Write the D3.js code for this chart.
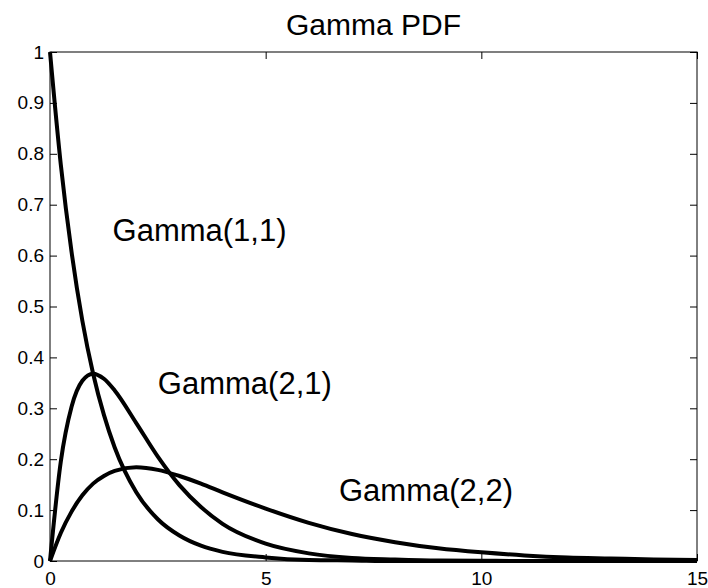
<!DOCTYPE html>
<html>
<head>
<meta charset="utf-8">
<script src="https://cdn.jsdelivr.net/npm/d3@7/dist/d3.min.js"></script>
<style>
  body { margin: 0; background: #fff; }
  svg { display: block; font-family: "Liberation Sans", Arial, Helvetica, sans-serif; }
</style>
</head>
<body>
<svg id="chart" width="708" height="588"></svg>
<script>
// values
const xs = [0, 0.25, 0.5, 0.75, 1, 1.25, 1.5, 2, 2.5, 3, 3.5, 4, 5, 6, 7, 8, 9, 10, 11, 12, 13, 14, 15];
const gamma11 = [1, 0.779, 0.607, 0.472, 0.368, 0.287, 0.223, 0.135, 0.082, 0.050, 0.030, 0.018, 0.007, 0.002, 0.001, 0, 0, 0, 0, 0, 0, 0, 0];
const gamma21 = [0, 0.195, 0.303, 0.354, 0.368, 0.358, 0.335, 0.271, 0.205, 0.149, 0.106, 0.073, 0.034, 0.015, 0.006, 0.003, 0.001, 0.0005, 0, 0, 0, 0, 0];
const gamma22 = [0, 0.055, 0.097, 0.129, 0.152, 0.167, 0.177, 0.184, 0.179, 0.167, 0.152, 0.135, 0.103, 0.075, 0.053, 0.037, 0.025, 0.017, 0.011, 0.007, 0.005, 0.003, 0.002];
const seriesNames = ['Gamma(1,1)', 'Gamma(2,1)', 'Gamma(2,2)'];
const labelX = [1.45, 2.5, 6.7];
const labelY = [0.65, 0.35, 0.14];
const xTicks = [0, 5, 10, 15];
const yTicks = [0, 0.1, 0.2, 0.3, 0.4, 0.5, 0.6, 0.7, 0.8, 0.9, 1];

const margin = {left: 50, right: 11, top: 52, bottom: 27};
const W = 708, H = 588;
const TICK = 7;

const svg = d3.select('#chart');

const x = d3.scaleLinear().domain([0, 15]).range([margin.left, W - margin.right]);
const y = d3.scaleLinear().domain([0, 1]).range([H - margin.bottom, margin.top]);

// box
svg.append('rect')
    .attr('x', x(0)).attr('y', y(1))
    .attr('width', x(15) - x(0)).attr('height', y(0) - y(1))
    .attr('fill', 'none').attr('stroke', '#000').attr('stroke-width', 1);

function styleAxis(g) {
    g.select('.domain').remove();
    g.selectAll('line').attr('stroke', '#000');
    g.selectAll('text').attr('fill', '#000');
}

const fmt = d => String(+d.toFixed(1));

svg.append('g')
    .attr('transform', `translate(0,${y(0)})`)
    .call(d3.axisBottom(x).tickValues(xTicks).tickFormat(fmt).tickSizeInner(-TICK).tickSizeOuter(0).tickPadding(11))
    .attr('font-size', 19).attr('font-family', null)
    .call(styleAxis);

svg.append('g')
    .attr('transform', `translate(0,${y(1)})`)
    .call(d3.axisTop(x).tickValues(xTicks).tickFormat('').tickSizeInner(-TICK).tickSizeOuter(0))
    .call(styleAxis);

svg.append('g')
    .attr('transform', `translate(${x(0)},0)`)
    .call(d3.axisLeft(y).tickValues(yTicks).tickFormat(fmt).tickSizeInner(-TICK).tickSizeOuter(0).tickPadding(6))
    .attr('font-size', 19).attr('font-family', null)
    .call(styleAxis);

svg.append('g')
    .attr('transform', `translate(${x(15)},0)`)
    .call(d3.axisRight(y).tickValues(yTicks).tickFormat('').tickSizeInner(-TICK).tickSizeOuter(0))
    .call(styleAxis);

// curves
const line = d3.line()
    .x((d, i) => x(xs[i]))
    .y(d => y(d))
    .curve(d3.curveMonotoneX);

[gamma11, gamma21, gamma22].forEach(s => {
    svg.append('path')
        .datum(s)
        .attr('d', line)
        .attr('fill', 'none')
        .attr('stroke', '#000')
        .attr('stroke-width', 4)
        .attr('stroke-linejoin', 'round');
});

// curve labels
svg.append('g')
    .selectAll('text')
    .data(seriesNames)
    .enter().append('text')
    .attr('x', (d, i) => x(labelX[i]))
    .attr('y', (d, i) => y(labelY[i]))
    .attr('dy', '0.36em')
    .attr('font-size', 31)
    .text(d => d);

svg.append('text')
    .attr('x', (x(0) + x(15)) / 2)
    .attr('y', 35)
    .attr('text-anchor', 'middle')
    .attr('font-size', 30)
    .text('Gamma PDF');
</script>
</body>
</html>
